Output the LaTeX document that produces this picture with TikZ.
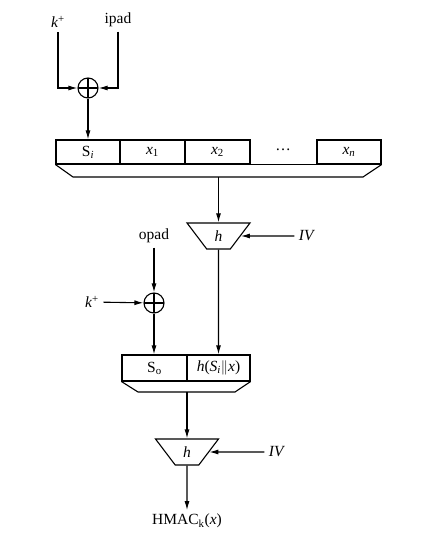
\documentclass[tikz,border=0pt]{standalone}
\usepackage{fontspec}
\setmainfont{Liberation Serif}
\usepackage{tikz}
\usetikzlibrary{arrows.meta,shapes.geometric}

\tikzset{
  arr/.style={-{Latex[length=9pt,width=5pt]}},
  cell/.style={draw, minimum height=24pt, inner sep=0pt},
  hashbox/.style={draw, trapezium, trapezium angle=59, trapezium stretches=true,
    shape border rotate=180, minimum width=63pt, minimum height=26pt, inner sep=0pt},
  xorop/.style={draw, circle, minimum size=20pt, inner sep=0pt,
    path picture={\draw (path picture bounding box.north) -- (path picture bounding box.south)
      (path picture bounding box.west) -- (path picture bounding box.east);}},
  lbl/.style={inner sep=4pt}
}

\begin{document}
\begin{tikzpicture}[x=1pt, y=-1pt, line width=1.1pt, font=\fontsize{15.5}{18}\selectfont]
      \useasboundingbox (0,0) rectangle (432,543);

      % inner part
      \node[lbl] (kp1) at (58,22){\textit{k}\textsuperscript{+}};
      \node[lbl] (ipad) at (118,20){ipad};
      \node[xorop] (xor1) at (88,88){};

      \node[cell, minimum width=64pt] (si) at (88,152){S\textsubscript{\textit{i}}};
      \node[cell, minimum width=65pt] (x1) at (152.5,152){\textit{x}\textsubscript{1}};
      \node[cell, minimum width=65pt] (x2) at (217.5,152){\textit{x}\textsubscript{2}};
      \node (dots) at (283,150){\dots};
      \node[cell, minimum width=64pt] (xn) at (349,152){\textit{x}\textsubscript{\textit{n}}};
      \coordinate (m1) at (218.5,177);

      \node[hashbox] (h1) at (218.5,236){\textit{h}};
      \node[lbl] (iv1) at (307,236){\textit{IV}};

      \draw[arr] (kp1) |- (xor1);
      \draw[arr] (ipad) |- (xor1);
      \draw[arr] (xor1) -- (si);
      \draw[-] (x2.south east) -- (xn.south west);
      \draw[-] (si.south west) -- (73,177) -- (363,177) -- (xn.south east);
      \draw[arr] (m1) -- (h1);
      \draw[arr] (iv1) -- (h1);

      % outer part
      \node[lbl] (opad) at (154,236){opad};
      \node[lbl] (kp2) at (92,302){\textit{k}\textsuperscript{+}};
      \node[xorop] (xor2) at (154,303){};

      \node[cell, minimum width=65pt, minimum height=26pt] (so) at (154.5,368){S\textsubscript{o}};
      \node[cell, minimum width=63pt, minimum height=26pt] (hs) at (218.5,368){\textit{h}(\textit{S}\textsubscript{\textit{i}}$\|$\textit{x})};
      \coordinate (m2) at (187,392);

      \node[hashbox] (h2) at (187,452){\textit{h}};
      \node[lbl] (iv2) at (277,452){\textit{IV}};
      \node (out) at (187,521){HMAC\textsubscript{k}(\textit{x})};

      \draw[arr] (opad) -- (xor2);
      \draw[arr] (kp2) -- (xor2);
      \draw[arr] (xor2) -- (xor2 |- so.north);
      \draw[arr] (h1) -- (hs);
      \draw[-] (so.south west) -- (138,392) -- (235,392) -- (hs.south east);
      \draw[arr] (m2) -- (h2);
      \draw[arr] (iv2) -- (h2);
      \draw[arr] (h2) -- (out);
    \end{tikzpicture}
\end{document}
